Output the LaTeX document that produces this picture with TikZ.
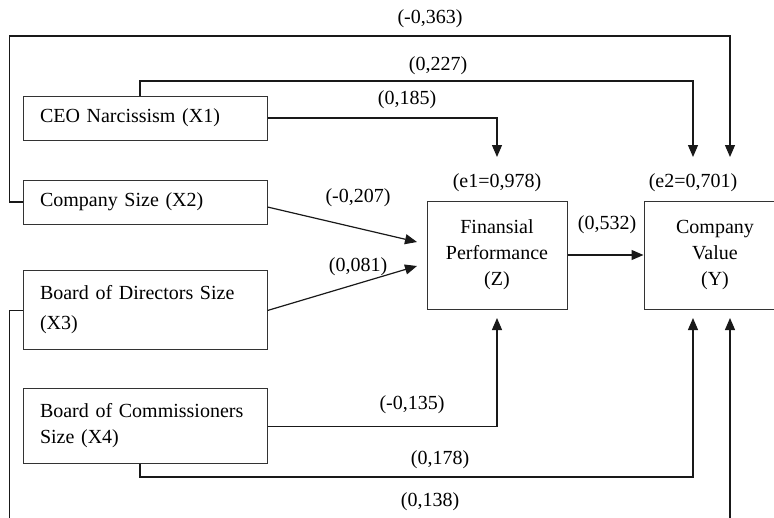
\documentclass[tikz,border=0pt]{standalone}
\usepackage{fontspec}
\setmainfont{Liberation Serif}
\usetikzlibrary{arrows.meta}
\begin{document}
\begin{tikzpicture}[x=1pt,y=-1pt,
  txt/.style={font=\fontsize{20}{26}\selectfont, inner sep=0pt},
  box/.style={txt, draw=black!80, line width=1pt},
  lbox/.style={box, align=left, text width=210pt, inner xsep=17pt, minimum height=#1},
  cbox/.style={box, align=center, minimum width=#1, minimum height=108pt},
  line/.style={draw=black!90, line width=1.2pt},
  arr/.style={line, -{Triangle[length=12pt,width=10pt]}},
  lbl/.style={txt, fill=none}]
\useasboundingbox (0,0) rectangle (774,517);
\clip (0,0) rectangle (774,517);
% boxes
\node[lbox=44pt] (X1) at (145,118) {CEO Narcissism (X1)};
\node[lbox=44pt] (X2) at (145,202) {Company Size (X2)};
\node[lbox=79pt, font=\fontsize{20}{30}\selectfont] (X3) at (145,309.5) {Board of Directors Size\\(X3)};
\node[lbox=75pt] (X4) at (145,425.5) {Board of Commissioners\\Size (X4)};
\node[cbox=140pt] (Z) at (497,255) {Finansial\\Performance\\(Z)};
\node[cbox=142pt] (Y) at (715,255) {Company\\Value\\(Y)};
% residual labels
\node[lbl] (e1) at (497,183) {(e1=0,978)};
\node[lbl] (e2) at (693,183) {(e2=0,701)};
% end points
\coordinate (zt) at (497,157);
\coordinate (zb) at (497,318);
\coordinate (yt1) at (693,157);
\coordinate (yt2) at (730,157);
\coordinate (yb1) at (693,318);
\coordinate (yb2) at (730,318);
\coordinate (z1) at (417,242);
\coordinate (z2) at (417,266);
% connectors
\draw[arr] (X2.west) -- ++(-13,0) |- (730,36) -- (yt2);
\draw[arr] ([xshift=-5pt]X1.north) |- (693,81) -- (yt1);
\draw[arr] (X1.east) -| (zt);
\draw[arr] ([yshift=-5pt]X2.east) -- (z1);
\draw[arr] ([yshift=-1pt]X3.east) -- (z2);
\draw[arr] (Z.east) -- (Y.west);
\draw[arr] ([yshift=-1pt]X4.east) -| (zb);
\draw[arr] ([xshift=-5pt]X4.south) |- (693,477) -- (yb1);
\draw[arr] ([yshift=-1pt]X3.west) -- ++(-13,0) |- (730,540) -- (yb2);
% coefficient labels
\node[lbl] (c1) at (430,19) {(-0,363)};
\node[lbl] (c2) at (438,66) {(0,227)};
\node[lbl] (c3) at (407,100) {(0,185)};
\node[lbl] (c4) at (358,198) {(-0,207)};
\node[lbl] (c5) at (358,267) {(0,081)};
\node[lbl] (c6) at (607,225) {(0,532)};
\node[lbl] (c7) at (412,405) {(-0,135)};
\node[lbl] (c8) at (440,460) {(0,178)};
\node[lbl] (c9) at (430,502) {(0,138)};
\end{tikzpicture}
\end{document}
